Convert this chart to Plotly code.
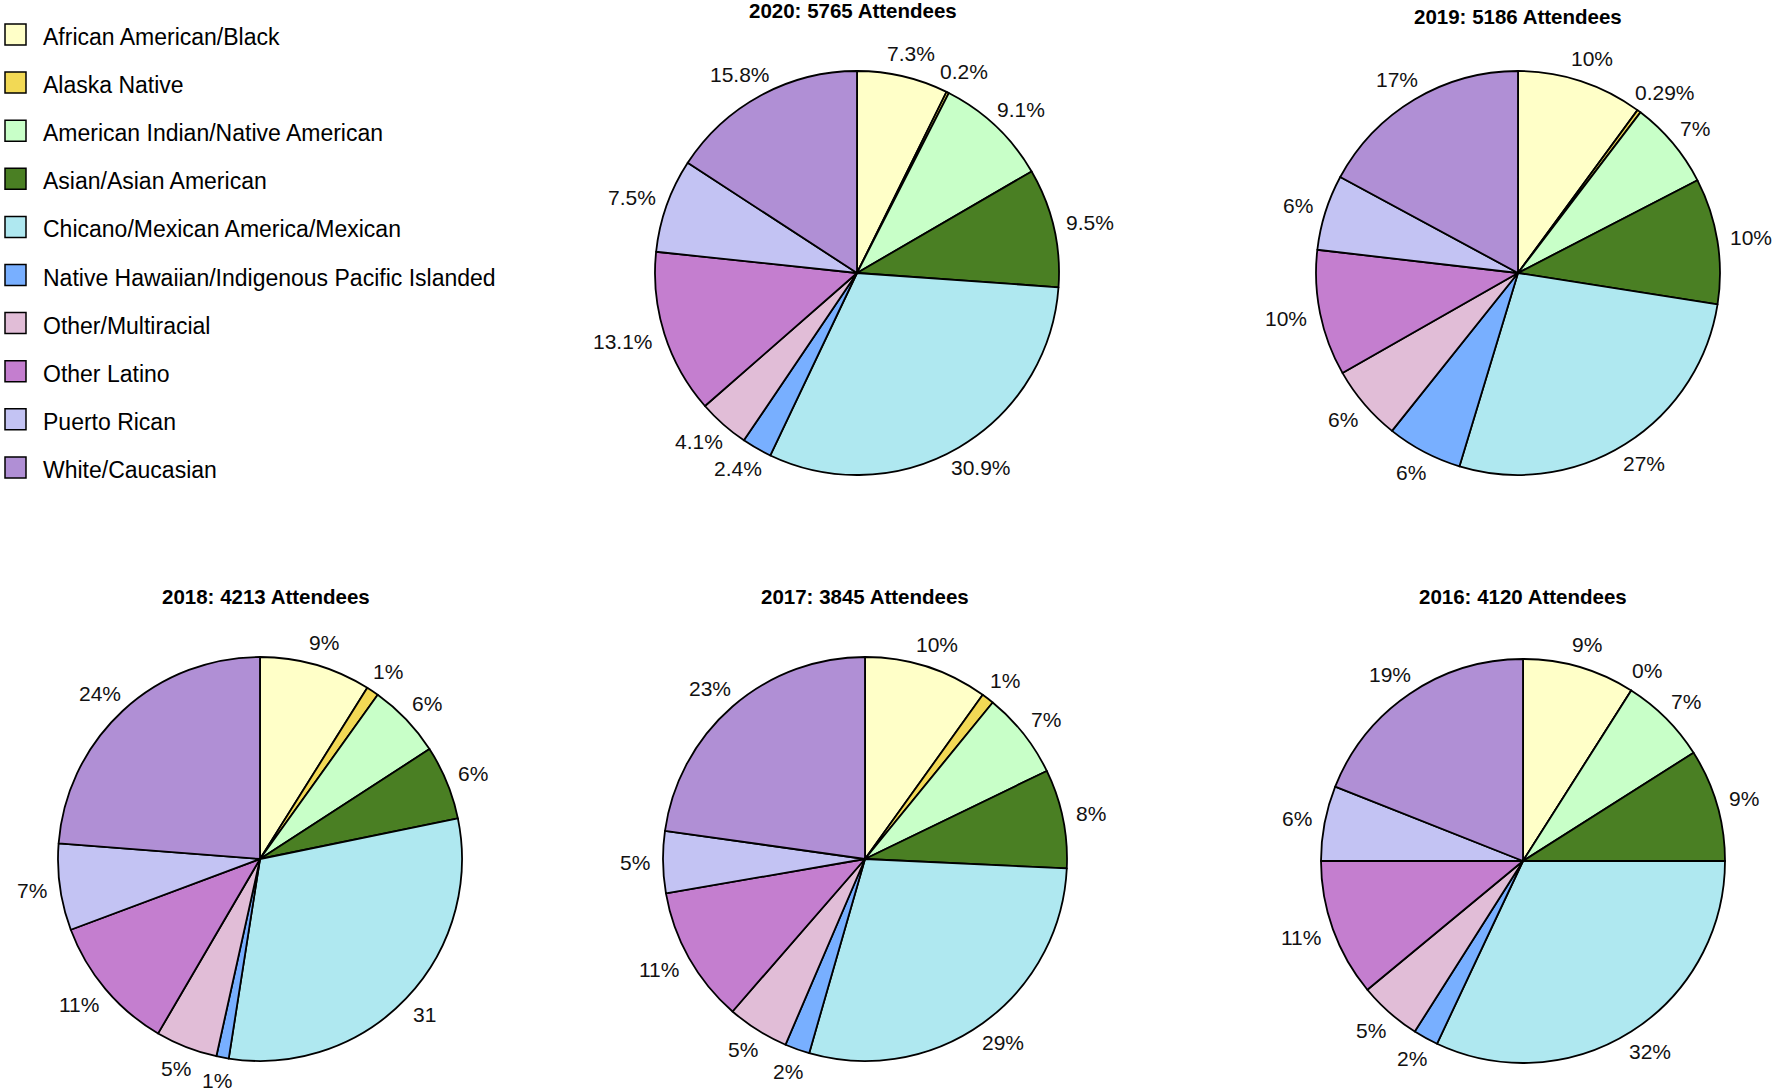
import math
import plotly.graph_objects as go

# ---------------- data ----------------
categories = [
    "African American/Black",
    "Alaska Native",
    "American Indian/Native American",
    "Asian/Asian American",
    "Chicano/Mexican America/Mexican",
    "Native Hawaiian/Indigenous Pacific Islanded",
    "Other/Multiracial",
    "Other Latino",
    "Puerto Rican",
    "White/Caucasian",
]
colors = ["#FFFFC8", "#F2D955", "#C8FFC8", "#4A7F23", "#AFE8F0",
          "#78AFFF", "#E1BDD7", "#C47ECF", "#C3C3F3", "#B08FD5"]

years = ["2020", "2019", "2018", "2017", "2016"]
attendees = [5765, 5186, 4213, 3845, 4120]

share_2020 = [7.3, 0.2, 9.1, 9.5, 30.9, 2.4, 4.1, 13.1, 7.5, 15.8]
share_2019 = [10, 0.29, 7, 10, 27, 6, 6, 10, 6, 17]
share_2018 = [9, 1, 6, 6, 31, 1, 5, 11, 7, 24]
share_2017 = [10, 1, 7, 8, 29, 2, 5, 11, 5, 23]
share_2016 = [9, 0, 7, 9, 32, 2, 5, 11, 6, 19]

text_2020 = ["7.3%", "0.2%", "9.1%", "9.5%", "30.9%", "2.4%", "4.1%", "13.1%", "7.5%", "15.8%"]
text_2019 = ["10%", "0.29%", "7%", "10%", "27%", "6%", "6%", "10%", "6%", "17%"]
text_2018 = ["9%", "1%", "6%", "6%", "31", "1%", "5%", "11%", "7%", "24%"]
text_2017 = ["10%", "1%", "7%", "8%", "29%", "2%", "5%", "11%", "5%", "23%"]
text_2016 = ["9%", "0%", "7%", "9%", "32%", "2%", "5%", "11%", "6%", "19%"]

shares = [share_2020, share_2019, share_2018, share_2017, share_2016]
texts = [text_2020, text_2019, text_2018, text_2017, text_2016]

# ---------------- layout geometry (pixels) ----------------
W, H = 1772, 1091
centers = [(857, 273), (1518, 273), (260, 859), (865, 859), (1523, 861)]
title_pos = [(853, 11), (1518, 17), (266, 596), (865, 596), (1523, 596)]
R = 202
LABEL_GAP = 1.066          # label box touches a circle of 1.066 x radius
LABEL_SIZE = 21
LABEL_H = 20
FONT = "Liberation Sans, Arial, sans-serif"
# Arial advance widths (em) for the characters used in the labels
CHAR_W = {".": 0.278, "%": 0.889}


def text_width(s, size):
    return sum(CHAR_W.get(ch, 0.556) for ch in s) * size


fig = go.Figure()
for i, yr in enumerate(years):
    cx, cy = centers[i]
    vals = shares[i]
    fig.add_trace(go.Pie(
        labels=categories,
        values=vals,
        text=texts[i],
        textinfo="none",
        sort=False,
        direction="clockwise",
        rotation=0,
        marker=dict(colors=colors, line=dict(color="black", width=1.8)),
        domain=dict(x=[(cx - R) / W, (cx + R) / W],
                    y=[1 - (cy + R) / H, 1 - (cy - R) / H]),
        showlegend=False,
        hoverinfo="label+text",
    ))
    # outside percentage labels at the mid-angle of each slice
    total = float(sum(vals))
    cum = 0.0
    for v, t in zip(vals, texts[i]):
        mid = (cum + v / 2.0) / total
        cum += v
        ang = 2 * math.pi * mid          # clockwise from 12 o'clock
        dx, dy = math.sin(ang), -math.cos(ang)
        w = text_width(t, LABEL_SIZE)
        lx = cx + LABEL_GAP * R * dx + dx * w / 2
        ly = cy + LABEL_GAP * R * dy + dy * LABEL_H / 2
        fig.add_annotation(
            x=lx / W, y=1 - ly / H, xref="paper", yref="paper",
            xanchor="center", yanchor="middle", showarrow=False, text=t,
            font=dict(family=FONT, size=LABEL_SIZE, color="#111111"),
            borderpad=0,
        )
    tx, ty = title_pos[i]
    fig.add_annotation(
        x=tx / W, y=1 - ty / H, xref="paper", yref="paper",
        xanchor="center", yanchor="middle", showarrow=False,
        text="<b>%s: %d Attendees</b>" % (yr, attendees[i]),
        font=dict(family=FONT, size=20.5, color="black"),
    )

# ---------------- legend (boxes + labels) ----------------
LEG_X0, LEG_BOX = 5, 21
LEG_Y0, LEG_STEP = 34.5, 48.1
for k, (cat, col) in enumerate(zip(categories, colors)):
    yc = LEG_Y0 + k * LEG_STEP
    fig.add_shape(
        type="rect", xref="paper", yref="paper",
        x0=LEG_X0 / W, x1=(LEG_X0 + LEG_BOX) / W,
        y0=1 - (yc + LEG_BOX / 2) / H, y1=1 - (yc - LEG_BOX / 2) / H,
        fillcolor=col, line=dict(color="black", width=1.5),
    )
    fig.add_annotation(
        x=41 / W, y=1 - (yc + 2.5) / H, xref="paper", yref="paper",
        xanchor="left", yanchor="middle", showarrow=False, text=cat,
        font=dict(family=FONT, size=23, color="black"),
    )

fig.update_layout(
    width=W, height=H,
    margin=dict(l=0, r=0, t=0, b=0),
    paper_bgcolor="white",
    plot_bgcolor="white",
    font=dict(family=FONT, color="black"),
    showlegend=False,
)

fig.write_html("out.html", config={"displayModeBar": False},
               post_script="document.body.style.margin='0px';")
